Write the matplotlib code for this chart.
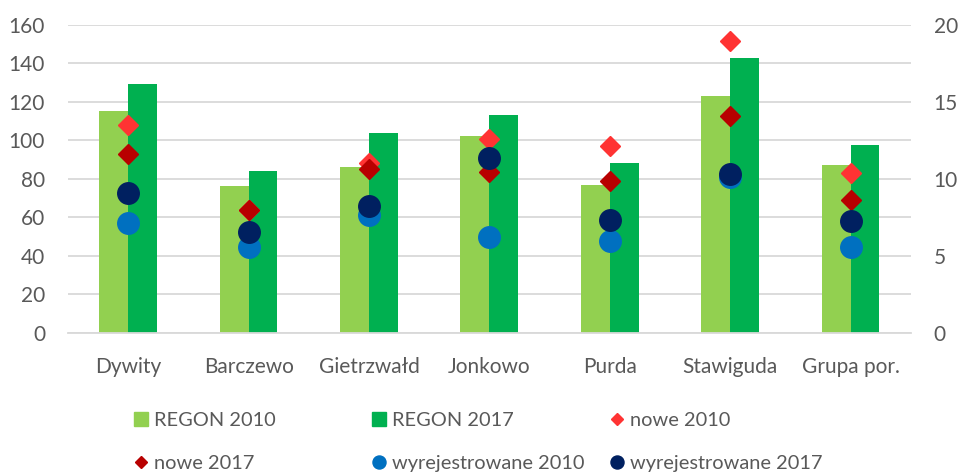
import matplotlib.pyplot as plt
import numpy as np
from matplotlib.lines import Line2D
from matplotlib.patches import Patch

plt.rcParams["font.family"] = ["Lato", "DejaVu Sans"]

categories = ["Dywity", "Barczewo", "Gietrzwałd", "Jonkowo", "Purda", "Stawiguda", "Grupa por."]

# left axis (bars)
regon_2010 = [115, 76, 86, 102, 77, 123, 87]
regon_2017 = [129, 84, 103.5, 113, 88, 142.5, 97.5]

# right axis (markers)
nowe_2010 = [13.5, 8.0, 11.05, 12.6, 12.15, 18.9, 10.4]
nowe_2017 = [11.6, 7.95, 10.65, 10.45, 9.85, 14.1, 8.65]
wyrej_2010 = [7.15, 5.55, 7.65, 6.25, 5.95, 10.1, 5.55]
wyrej_2017 = [9.05, 6.55, 8.25, 11.35, 7.35, 10.3, 7.25]

c_light = "#92D050"
c_dark = "#00B050"
c_red = "#FF3333"
c_dred = "#B80000"
c_blue = "#0070C0"
c_navy = "#002060"
txt = "#595959"
grid = "#D9D9D9"

fig = plt.figure(figsize=(9.6, 4.73), dpi=100)
ax = fig.add_axes([68 / 960, 1 - 333 / 473, (910.7 - 68) / 960, (333 - 24.5) / 473])
ax2 = ax.twinx()

x = np.arange(len(categories))
w = 0.24
ax.bar(x - w / 2, regon_2010, w, color=c_light, zorder=2)
ax.bar(x + w / 2, regon_2017, w, color=c_dark, zorder=2)

ax.set_ylim(0, 160)
ax.set_yticks(range(0, 161, 20))
ax.set_xlim(-0.5, len(categories) - 0.5)
ax.set_xticks(x, categories)
ax.grid(axis="y", color=grid, linewidth=1.3, zorder=0)
ax.set_axisbelow(True)

ax2.plot(x, nowe_2010, "D", color=c_red, ms=10, ls="none")
ax2.plot(x, nowe_2017, "D", color=c_dred, ms=10, ls="none")
ax2.plot(x, wyrej_2010, "o", color=c_blue, ms=15.5, ls="none")
ax2.plot(x, wyrej_2017, "o", color=c_navy, ms=15.5, ls="none")
ax2.set_ylim(0, 20)
ax2.set_yticks(range(0, 21, 5))

for a in (ax, ax2):
    for s in a.spines.values():
        s.set_visible(False)
    a.tick_params(length=0, labelsize=15, labelcolor=txt)
ax.spines["bottom"].set_visible(True)
ax.spines["bottom"].set_color(grid)
ax.spines["bottom"].set_linewidth(1.3)
ax.tick_params(axis="y", pad=16.5)
ax.tick_params(axis="x", pad=17)
ax2.tick_params(axis="y", pad=16.5)

# legend laid out as three columns, rows filled left to right like the original
cols = [
    [(Patch(color=c_light), "REGON 2010"), (Line2D([], [], marker="D", color=c_dred, ls="none", ms=6.6), "nowe 2017")],
    [(Patch(color=c_dark), "REGON 2017"), (Line2D([], [], marker="o", color=c_blue, ls="none", ms=9.4), "wyrejestrowane 2010")],
    [(Line2D([], [], marker="D", color=c_red, ls="none", ms=6.6), "nowe 2010"), (Line2D([], [], marker="o", color=c_navy, ls="none", ms=9.4), "wyrejestrowane 2017")],
]
starts = [134, 372, 610]
for xs, col in zip(starts, cols):
    fig.legend(
        [h for h, _ in col], [l for _, l in col],
        loc="upper left", bbox_to_anchor=(xs / 960, 1 - 412 / 473),
        frameon=False, fontsize=14.4, labelcolor=txt, labelspacing=1.3,
        handlelength=0.7, handleheight=0.7, handletextpad=0.3, borderpad=0, borderaxespad=0,
    )

fig.savefig("out.png", dpi=100)
